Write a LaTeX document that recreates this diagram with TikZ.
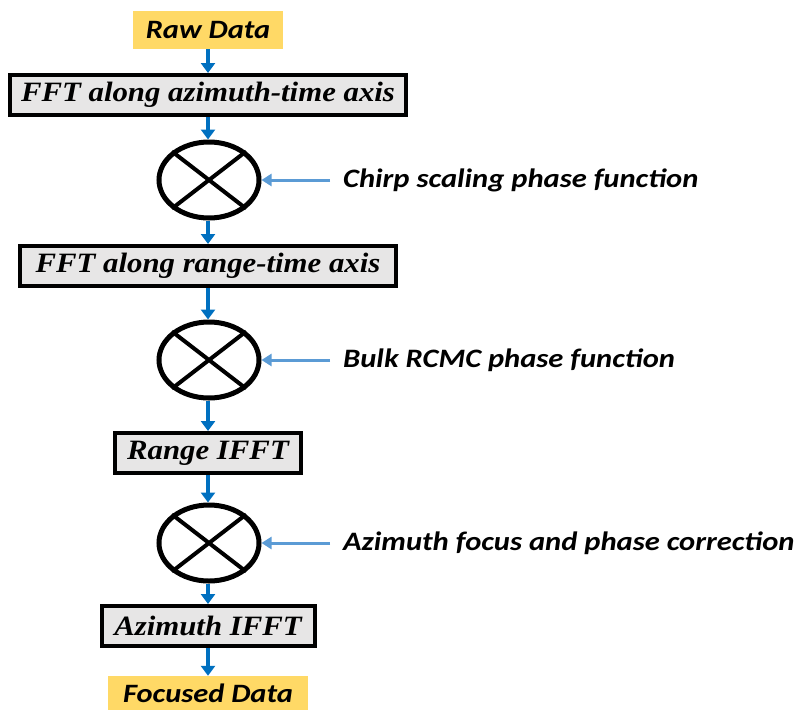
\documentclass[tikz,border=0pt]{standalone}
\usepackage{fontspec}
\setmainfont{Liberation Serif}[FakeStretch=1.1]
\newfontfamily\calfont{Carlito}[FakeStretch=1.15]
\usetikzlibrary{shapes.geometric,arrows.meta}

\definecolor{datayellow}{HTML}{FFD966}
\definecolor{boxgray}{HTML}{E7E6E6}
\definecolor{flowblue}{HTML}{0070C0}
\definecolor{inblue}{HTML}{5B9BD5}

\begin{document}
\begin{tikzpicture}[x=1pt, y=-1pt,
    data/.style={fill=datayellow, minimum height=38pt, inner sep=0pt,
                 font=\calfont\fontsize{26.5}{30}\selectfont\bfseries\itshape},
    stage/.style={draw, line width=4pt, fill=boxgray, minimum height=40pt, inner sep=0pt,
                  font=\fontsize{28}{33}\selectfont\bfseries\itshape},
    mixer/.style={draw, ellipse, line width=5pt, minimum width=100pt, minimum height=76pt, inner sep=0pt},
    phase/.style={anchor=west, inner sep=0pt,
                  font=\calfont\fontsize{26.6}{30}\selectfont\bfseries\itshape},
    flow/.style={draw=flowblue, line width=3.5pt, -{Triangle[length=10pt, width=14pt]}},
    feed/.style={draw=inblue, line width=3pt, -{Triangle[length=10pt, width=12pt]}},
  ]
  \useasboundingbox (0,0) rectangle (802,718);

  % processing chain
  \node[data, minimum width=150pt] (raw) at (208,30) {Raw Data};
  \node[stage, minimum width=396pt] (fftaz) at (208,95) {FFT along azimuth-time axis};
  \node[mixer] (mulcs) at (209,180) {};
  \node[stage, minimum width=376pt] (fftrg) at (208,266) {FFT along range-time axis};
  \node[mixer] (mulrc) at (209,360) {};
  \node[stage, minimum width=186pt] (ifftrg) at (208,453) {Range IFFT};
  \node[mixer] (mulaz) at (209,543) {};
  \node[stage, minimum width=213pt] (ifftaz) at (208,626) {Azimuth IFFT};
  \node[data, minimum width=200pt, minimum height=34pt] (focused) at (208,693) {Focused Data};

  % phase functions
  \node[phase] (pcs) at (343,180) {Chirp scaling phase function};
  \node[phase] (prc) at (343,360) {Bulk RCMC phase function};
  \node[phase] (paz) at (343,543) {Azimuth focus and phase correction};

  \foreach \m in {mulcs, mulrc, mulaz} {
    \draw[line width=4pt] (\m.north west) -- (\m.south east)
                          (\m.north east) -- (\m.south west);
  }

  \draw[flow] (raw) -- (fftaz);
  \draw[flow] (fftaz) -- (fftaz.south |- mulcs.north);
  \draw[flow] (fftaz.south |- mulcs.south) -- (fftrg);
  \draw[flow] (fftrg) -- (fftrg.south |- mulrc.north);
  \draw[flow] (fftrg.south |- mulrc.south) -- (ifftrg);
  \draw[flow] (ifftrg) -- (ifftrg.south |- mulaz.north);
  \draw[flow] (ifftrg.south |- mulaz.south) -- (ifftaz);
  \draw[flow] (ifftaz) -- (focused);

  \draw[feed] ([xshift=-13pt]pcs.west) -- (mulcs.east);
  \draw[feed] ([xshift=-13pt]prc.west) -- (mulrc.east);
  \draw[feed] ([xshift=-13pt]paz.west) -- (mulaz.east);
\end{tikzpicture}
\end{document}
